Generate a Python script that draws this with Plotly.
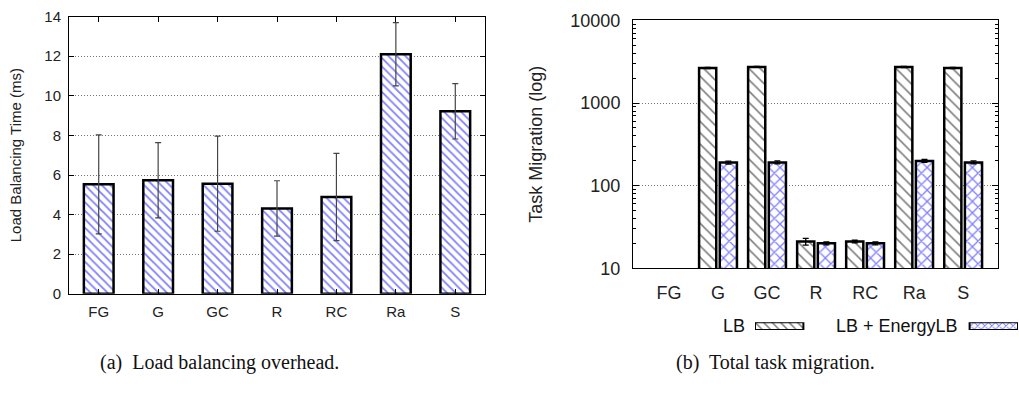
import plotly.graph_objects as go

# ---------------- data ----------------
categories = ["FG", "G", "GC", "R", "RC", "Ra", "S"]

lb_time = [5.53, 5.74, 5.56, 4.31, 4.89, 12.1, 9.22]
lb_time_err = [2.5, 1.9, 2.4, 1.4, 2.2, 1.6, 1.4]

mig_lb = [None, 2660, 2735, 21, 21, 2730, 2660]
mig_lb_err = [0, 40, 40, 2, 0.8, 40, 40]
mig_energy = [None, 190, 191, 20, 20, 199, 191]
mig_energy_err = [0, 8, 8, 0.8, 0.8, 8, 8]

left_ticks = [0, 2, 4, 6, 8, 10, 12, 14]
right_ticks = [10, 100, 1000, 10000]
right_ticktext = ["10", "100", "1000", "10000"]
right_minor_ticks = [m * d for d in (10, 100, 1000) for m in range(2, 10)]

series_names = ["LB", "LB + EnergyLB"]

# ---------------- layout helpers ----------------
W, H = 1019, 394
def fx(px):
    return px / W
def fy(py):
    return 1 - py / H

SANS = "Liberation Sans"
SERIF = "Liberation Serif"
BLUE = "#0000ff"
GRID_DASH = "1px,2px"

fig = go.Figure()

# Left panel: load balancing time
fig.add_trace(go.Bar(
    x=categories, y=lb_time, xaxis="x", yaxis="y",
    width=0.5,
    marker=dict(color="white",
                line=dict(color="black", width=2.5),
                pattern=dict(shape="\\", fgcolor=BLUE, bgcolor="white",
                             size=6, solidity=0.3)),
    error_y=dict(type="data", array=lb_time_err, color="#444",
                 thickness=1.2, width=3),
    showlegend=False,
))

# Right panel: task migration (log)
fig.add_trace(go.Bar(
    x=categories, y=mig_lb, xaxis="x2", yaxis="y2",
    width=0.35, offset=-0.387, name=series_names[0],
    marker=dict(color="white",
                line=dict(color="black", width=2.5),
                pattern=dict(shape="\\", fgcolor="black", bgcolor="white",
                             size=8, solidity=0.2)),
    error_y=dict(type="data", array=mig_lb_err, color="black",
                 thickness=1.3, width=3),
    showlegend=False,
))
fig.add_trace(go.Bar(
    x=categories, y=mig_energy, xaxis="x2", yaxis="y2",
    width=0.35, offset=0.035, name=series_names[1],
    marker=dict(color="white",
                line=dict(color="black", width=2.5),
                pattern=dict(shape="x", fgcolor=BLUE, bgcolor="white",
                             size=8, solidity=0.3)),
    error_y=dict(type="data", array=mig_energy_err, color="black",
                 thickness=1.3, width=3),
    showlegend=False,
))

# Legend swatches (drawn on a small helper axis)
sw_start = [0.0, 0.816]
sw_len = [0.184, 0.184]
fig.add_trace(go.Bar(
    y=[0], x=[sw_len[0]], base=[sw_start[0]], orientation="h", width=1,
    xaxis="x3", yaxis="y3", showlegend=False, hoverinfo="skip",
    marker=dict(color="white", line=dict(color="black", width=2),
                pattern=dict(shape="\\", fgcolor="black", bgcolor="white",
                             size=6, solidity=0.25)),
))
fig.add_trace(go.Bar(
    y=[0], x=[sw_len[1]], base=[sw_start[1]], orientation="h", width=1,
    xaxis="x3", yaxis="y3", showlegend=False, hoverinfo="skip",
    marker=dict(color="white", line=dict(color="black", width=2),
                pattern=dict(shape="x", fgcolor=BLUE, bgcolor="white",
                             size=5, solidity=0.35)),
))

axis_font_l = dict(family=SANS, size=15, color="#222")
axis_font_r = dict(family=SANS, size=18, color="#222")

fig.update_layout(
    width=W, height=H,
    margin=dict(l=0, r=0, t=0, b=0),
    paper_bgcolor="white", plot_bgcolor="white",
    barmode="overlay",
    xaxis=dict(domain=[fx(69), fx(485)], type="category",
               range=[-0.5, 6.5], showline=True, linecolor="black",
               linewidth=1, mirror="ticks", ticks="inside", ticklen=5,
               tickcolor="black", tickfont=axis_font_l, showgrid=False,
               anchor="y", ticklabelstandoff=4),
    yaxis=dict(domain=[fy(299), fy(7)], range=[0, 14], tickvals=left_ticks,
               showline=True, linecolor="black", linewidth=1,
               mirror="ticks", ticks="inside", ticklen=5, tickcolor="black",
               tickfont=axis_font_l, showgrid=True, gridcolor="#777",
               griddash=GRID_DASH, gridwidth=1, zeroline=False, anchor="x",
               ticklabelstandoff=4),
    xaxis2=dict(domain=[fx(633), fx(998)], type="category",
                range=[-0.735, 6.71], showline=True, linecolor="black",
                linewidth=1, mirror=True, ticks="", tickfont=axis_font_r,
                showgrid=False, anchor="y2", ticklabelstandoff=8),
    yaxis2=dict(domain=[fy(272), fy(11)], type="log", range=[1, 4],
                tickvals=right_ticks, ticktext=right_ticktext,
                showline=True, linecolor="black", linewidth=1,
                mirror="allticks", ticks="inside", ticklen=6,
                tickcolor="black", tickfont=axis_font_r,
                minor=dict(tickvals=right_minor_ticks, ticks="inside",
                           ticklen=3, tickcolor="black", showgrid=False),
                showgrid=True, gridcolor="#777", griddash=GRID_DASH,
                gridwidth=1, zeroline=False, anchor="x2",
                ticklabelstandoff=8),
    xaxis3=dict(domain=[fx(755), fx(1018)], range=[0, 1], visible=False,
                fixedrange=True, anchor="y3"),
    yaxis3=dict(domain=[fy(337), fy(329)], range=[-0.5, 0.5], visible=False,
                fixedrange=True, anchor="x3"),
)

annotations = [
    dict(text="Load Balancing Time (ms)", x=fx(15), y=fy(153),
         textangle=-90, font=dict(family=SANS, size=15, color="#222")),
    dict(text="Task Migration (log)", x=fx(536), y=fy(142),
         textangle=-90, font=dict(family=SANS, size=18, color="#222")),
    dict(text=series_names[0], x=fx(734), y=fy(333),
         font=dict(family=SANS, size=18, color="#111")),
    dict(text=series_names[1], x=fx(897), y=fy(333),
         font=dict(family=SANS, size=18, color="#111")),
    dict(text="(a)  Load balancing overhead.", x=fx(219), y=fy(371),
         font=dict(family=SERIF, size=20, color="#111")),
    dict(text="(b)  Total task migration.", x=fx(775), y=fy(371),
         font=dict(family=SERIF, size=20, color="#111")),
]
for a in annotations:
    a.update(xref="paper", yref="paper", showarrow=False,
             xanchor="center", yanchor="middle")
fig.update_layout(annotations=annotations)

fig.write_html("out.html")
